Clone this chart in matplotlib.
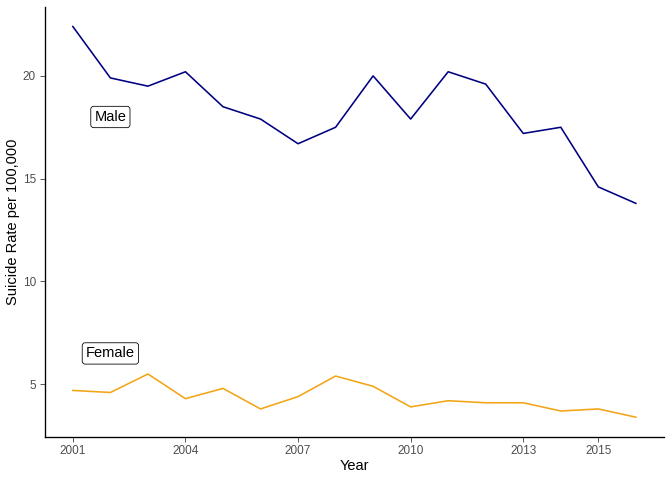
import matplotlib
matplotlib.use("Agg")
import matplotlib.pyplot as plt

plt.rcParams["font.family"] = ["Liberation Sans", "DejaVu Sans"]

years = list(range(2001, 2017))
male_rate = [22.4, 19.9, 19.5, 20.2, 18.5, 17.9, 16.7, 17.5,
             20.0, 17.9, 20.2, 19.6, 17.2, 17.5, 14.6, 13.8]
female_rate = [4.7, 4.6, 5.5, 4.3, 4.8, 3.8, 4.4, 5.4,
               4.9, 3.9, 4.2, 4.1, 4.1, 3.7, 3.8, 3.4]

x_ticks = [2001, 2004, 2007, 2010, 2013, 2015]
y_ticks = [5, 10, 15, 20]

labels = ["Male", "Female"]
label_x = [2002, 2002]
label_y = [18.0, 6.5]

male_color = "#000080"
female_color = "#F2A516"

W, H = 672, 480
fig = plt.figure(figsize=(W / 96, H / 96), dpi=96)
ax = fig.add_axes([44.7 / W, (H - 436.7) / H, (664 - 44.7) / W, (436.7 - 7) / H])

ax.plot(years, male_rate, color=male_color, linewidth=1.2)
ax.plot(years, female_rate, color=female_color, linewidth=1.2)

for txt, lx, ly in zip(labels, label_x, label_y):
    ax.text(lx, ly, txt, ha="center", va="center", fontsize=11, color="black",
            bbox=dict(boxstyle="round,pad=0.25,rounding_size=0.2",
                      facecolor="white", edgecolor="black", linewidth=0.6))

all_y = male_rate + female_rate + label_y
lo, hi = min(all_y), max(all_y)
pad = (hi - lo) * 0.05
ax.set_ylim(lo - pad, hi + pad)
ax.set_xlim(2001 - 0.75, 2016 + 0.75)

ax.set_xticks(x_ticks)
ax.set_yticks(y_ticks)
ax.tick_params(axis="both", labelsize=8.8, labelcolor="#4D4D4D", color="#333333",
               length=3.5, width=0.6, pad=3)

for side in ["top", "right"]:
    ax.spines[side].set_visible(False)
for side in ["left", "bottom"]:
    ax.spines[side].set_linewidth(1.0)
    ax.spines[side].set_color("black")

ax.set_xlabel("Year", fontsize=11, labelpad=1)
ax.set_ylabel("Suicide Rate per 100,000", fontsize=11, labelpad=0)
ax.yaxis.set_label_coords(-(44.7 - 20) / (664 - 44.7), 0.5)

fig.savefig("out.png", dpi=96)
